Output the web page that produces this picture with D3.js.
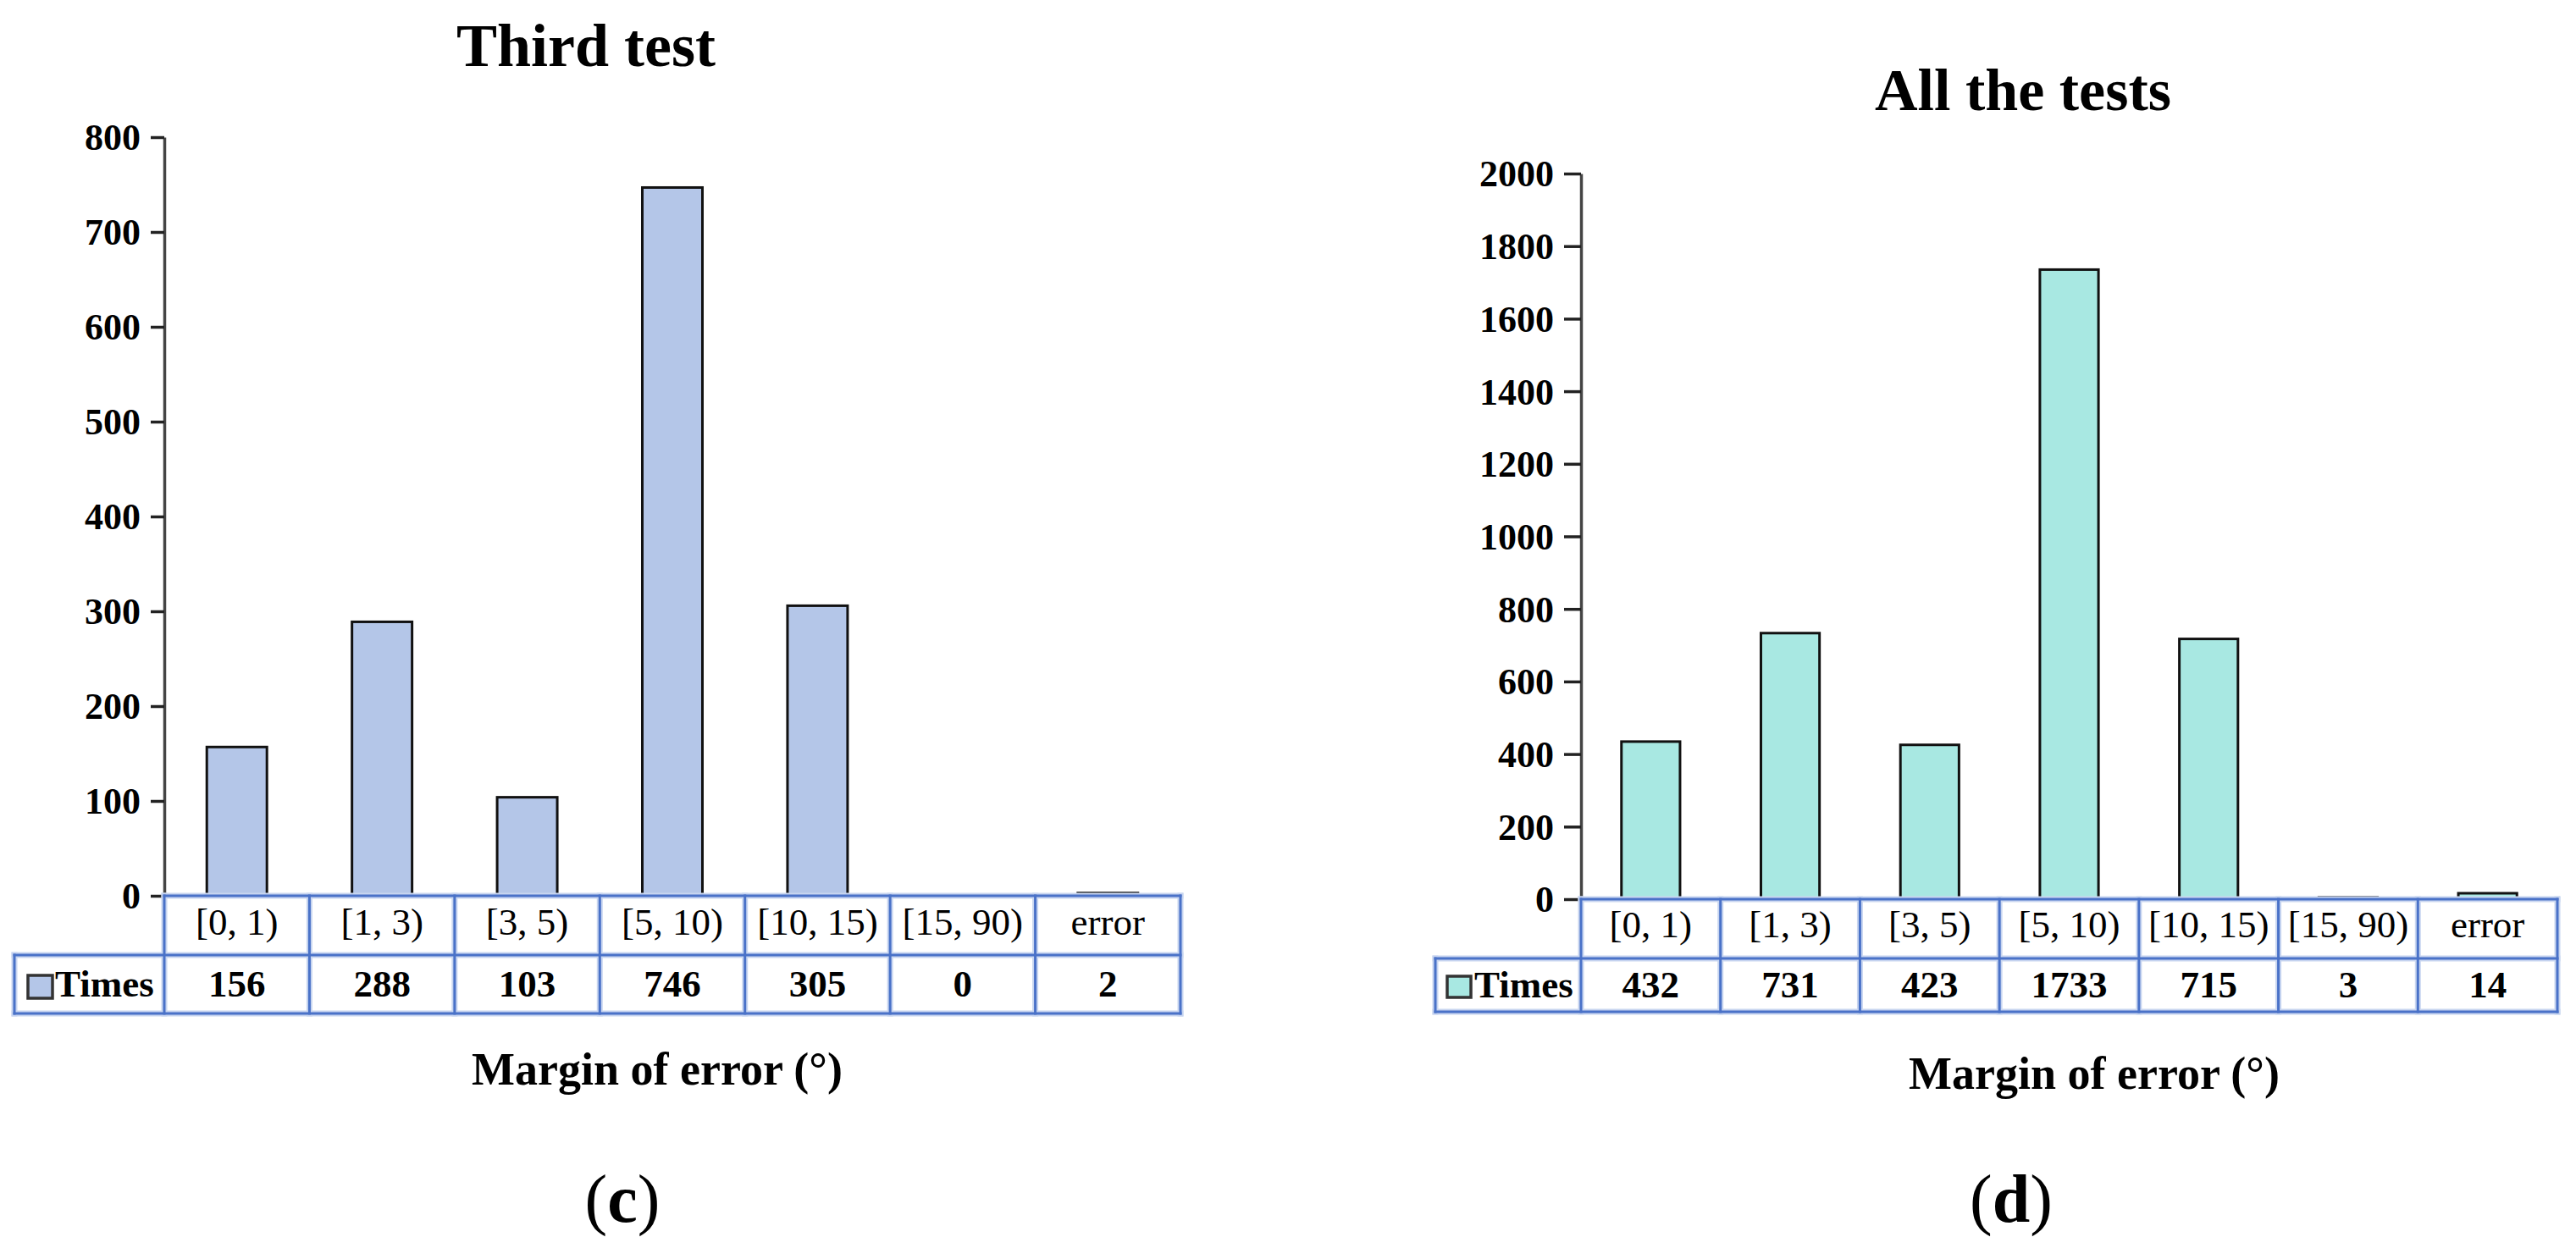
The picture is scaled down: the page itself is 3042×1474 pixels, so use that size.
<!DOCTYPE html>
<html>
<head>
<meta charset="utf-8">
<script src="https://cdn.jsdelivr.net/npm/d3@7"></script>
<style>
  html, body { margin: 0; padding: 0; background: #ffffff; }
  svg { display: block; }
</style>
</head>
<body>
<svg id="chart" width="3042" height="1474"></svg>
<script>
// ---------- data ----------
const categories = ["[0, 1)", "[1, 3)", "[3, 5)", "[5, 10)", "[10, 15)", "[15, 90)", "error"];
const thirdTestTimes = [156, 288, 103, 746, 305, 0, 2];
const allTestsTimes = [432, 731, 423, 1733, 715, 3, 14];
const thirdTestTicks = [0, 100, 200, 300, 400, 500, 600, 700, 800];
const allTestsTicks = [0, 200, 400, 600, 800, 1000, 1200, 1400, 1600, 1800, 2000];
const seriesName = "Times";
const xAxisTitle = "Margin of error (°)";
const panelTitles = ["Third test", "All the tests"];
const panelLetters = ["c", "d"];

// ---------- drawing ----------
const FONT = '"Liberation Serif", "Times New Roman", Times, serif';
const svg = d3.select("#chart");
svg.append("rect").attr("width", 3042).attr("height", 1474).attr("fill", "#fff");

const TABLE_BLUE = "#4a72c8";
const TABLE_HALO = "#c8d5f0";

function drawPanel(p) {
  const g = svg.append("g").attr("font-family", FONT);

  const y = d3.scaleLinear().domain([0, d3.max(p.ticks)]).range([p.yBase, p.yTop]);
  const xCells = d3.scaleBand().domain(categories).range([p.x0, p.x1]).padding(0);
  const xBars = d3.scaleBand().domain(categories).range([p.x0, p.x1])
    .paddingInner(p.barPad).paddingOuter(p.barPad / 2);

  // title
  g.append("text")
    .attr("x", p.titleX).attr("y", p.titleY)
    .attr("text-anchor", "middle")
    .attr("font-family", FONT)
    .attr("font-size", p.titleSize).attr("font-weight", "bold")
    .text(p.title);

  // bars
  const data = categories.map((c, i) => ({ c, v: p.values[i] })).filter(d => d.v > 0);
  g.selectAll("rect.bar").data(data).enter().append("rect")
    .attr("class", "bar")
    .attr("x", d => xBars(d.c))
    .attr("width", xBars.bandwidth())
    .attr("y", d => y(d.v) - 1)
    .attr("height", d => Math.max(1.5, p.yBase - y(d.v) + 1))
    .attr("fill", p.color)
    .attr("stroke", "#111")
    .attr("stroke-width", 3);

  // y axis
  const axis = d3.axisLeft(y).tickValues(p.ticks).tickSize(p.tickLen).tickSizeOuter(0).tickPadding(12)
    .tickFormat(d3.format("d"));
  const ag = g.append("g").attr("transform", `translate(${p.x0},0)`).call(axis);
  ag.attr("font-family", FONT);
  ag.select(".domain").attr("stroke", "#444").attr("stroke-width", 3.5);
  ag.selectAll(".tick line").attr("stroke", "#222").attr("stroke-width", 3.5);
  ag.selectAll(".tick text")
    .attr("font-size", 44).attr("font-weight", "bold")
    .attr("font-family", FONT)
    .attr("fill", "#000").attr("dy", "0.34em");

  // data table
  const tg = g.append("g");
  const lines = [];
  lines.push([p.x0, p.yBase, p.x1, p.yBase]);
  lines.push([p.tableLeft, p.rowMid, p.x1, p.rowMid]);
  lines.push([p.tableLeft, p.rowBot, p.x1, p.rowBot]);
  lines.push([p.tableLeft, p.rowMid, p.tableLeft, p.rowBot]);
  categories.forEach(c => lines.push([xCells(c), p.yBase, xCells(c), p.rowBot]));
  lines.push([p.x1, p.yBase, p.x1, p.rowBot]);

  tg.selectAll("line.halo").data(lines).enter().append("line")
    .attr("x1", d => d[0]).attr("y1", d => d[1]).attr("x2", d => d[2]).attr("y2", d => d[3])
    .attr("stroke", TABLE_HALO).attr("stroke-width", 7).attr("stroke-linecap", "square");
  tg.selectAll("line.main").data(lines).enter().append("line")
    .attr("x1", d => d[0]).attr("y1", d => d[1]).attr("x2", d => d[2]).attr("y2", d => d[3])
    .attr("stroke", TABLE_BLUE).attr("stroke-width", 3).attr("stroke-linecap", "square");

  // category labels
  tg.selectAll("text.cat").data(categories).enter().append("text")
    .attr("class", "cat")
    .attr("x", c => xCells(c) + xCells.bandwidth() / 2)
    .attr("y", p.catBase)
    .attr("text-anchor", "middle")
    .attr("font-family", FONT)
    .attr("font-size", 45)
    .attr("fill", "#000")
    .text(c => c);

  // values
  tg.selectAll("text.val").data(categories).enter().append("text")
    .attr("class", "val")
    .attr("x", c => xCells(c) + xCells.bandwidth() / 2)
    .attr("y", p.valBase)
    .attr("text-anchor", "middle")
    .attr("font-family", FONT)
    .attr("font-size", 45).attr("font-weight", "bold")
    .attr("fill", "#000")
    .text((c, i) => p.values[i]);

  // legend key + series name
  tg.append("rect")
    .attr("x", p.swX).attr("y", p.swY).attr("width", p.swW).attr("height", p.swH)
    .attr("fill", p.color).attr("stroke", "#333").attr("stroke-width", 3.5);
  tg.append("text")
    .attr("x", p.timesX).attr("y", p.valBase)
    .attr("font-family", FONT)
    .attr("font-size", 45).attr("font-weight", "bold")
    .text(seriesName);

  // x axis title
  g.append("text")
    .attr("x", p.xlabX).attr("y", p.xlabY)
    .attr("font-family", FONT)
    .attr("font-size", 54).attr("font-weight", "bold")
    .text(xAxisTitle);

  // panel letter
  const pl = g.append("text")
    .attr("x", p.letterX).attr("y", p.letterY)
    .attr("text-anchor", "middle")
    .attr("font-family", FONT)
    .attr("font-size", 80);
  pl.append("tspan").text("(");
  pl.append("tspan").attr("font-weight", "bold").text(p.letter);
  pl.append("tspan").text(")");
}

drawPanel({
  title: panelTitles[0], titleX: 692, titleY: 78, titleSize: 72,
  values: thirdTestTimes, ticks: thirdTestTicks, color: "#b4c6e8",
  x0: 194, x1: 1394, yTop: 162, yBase: 1058, rowMid: 1128, rowBot: 1197,
  tableLeft: 17, barPad: 0.586, tickLen: 16,
  catBase: 1104, valBase: 1177,
  swX: 33, swY: 1152, swW: 29, swH: 27, timesX: 65,
  xlabX: 557, xlabY: 1281,
  letter: panelLetters[0], letterX: 735, letterY: 1443
});

drawPanel({
  title: panelTitles[1], titleX: 2389, titleY: 130, titleSize: 70,
  values: allTestsTimes, ticks: allTestsTicks, color: "#a8e8e2",
  x0: 1867, x1: 3020, yTop: 205, yBase: 1062, rowMid: 1132, rowBot: 1195,
  tableLeft: 1695, barPad: 0.58, tickLen: 20,
  catBase: 1107, valBase: 1178,
  swX: 1709, swY: 1153, swW: 28, swH: 25, timesX: 1741,
  xlabX: 2254, xlabY: 1286,
  letter: panelLetters[1], letterX: 2375, letterY: 1443
});
</script>
</body>
</html>
